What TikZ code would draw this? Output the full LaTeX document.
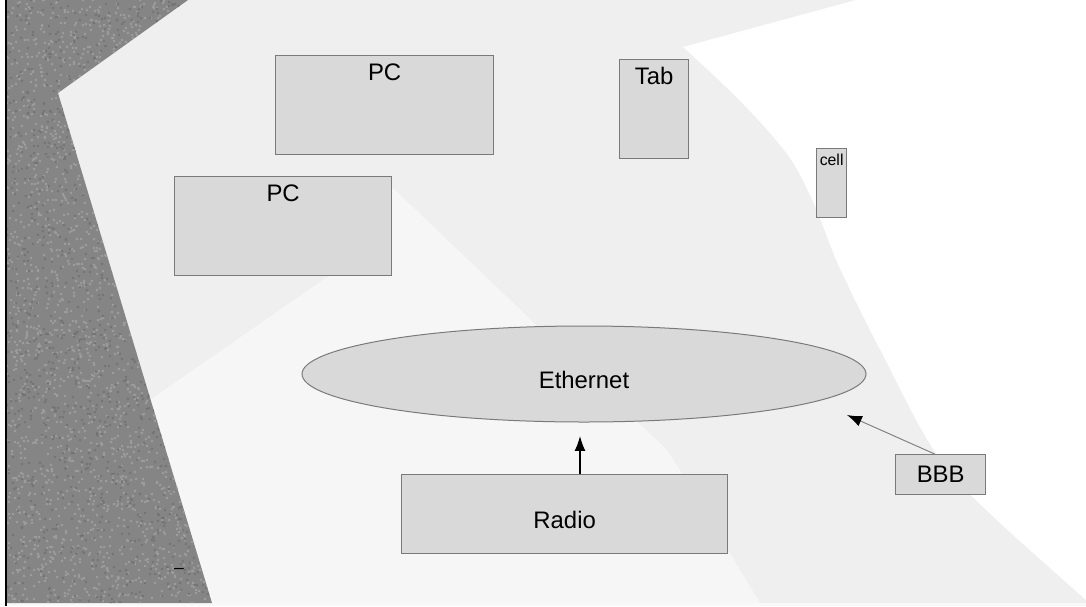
\documentclass[tikz,border=0pt]{standalone}
\usepackage{fontspec}
\setmainfont{Liberation Sans}
\usetikzlibrary{arrows.meta,shapes.geometric}
\newlength\pxl \setlength\pxl{0.02cm}
\definecolor{boxfill}{HTML}{D9D9D9}
\definecolor{boxline}{HTML}{7A7A7A}
\definecolor{stripcol}{HTML}{858585}
\definecolor{specks}{HTML}{9E9E9E}
\definecolor{specksdark}{HTML}{747474}
\definecolor{bgA}{HTML}{EFEFEF}
\definecolor{bgB}{HTML}{F6F6F6}
\begin{document}
\begin{tikzpicture}[x=0.02cm,y=-0.02cm,
  devbox/.style 2 args={draw=boxline, fill=boxfill, line width=1.3\pxl, inner sep=0pt,
    minimum width=#1\pxl, minimum height=#2\pxl, anchor=north west},
  lbl/.style={font=\fontsize{13.6}{16}\selectfont, inner sep=0pt},
  toplbl/.style={lbl, anchor=north, yshift=-8\pxl},
  conn/.style={draw=black, line width=0.7pt, -{Latex[length=8.5pt,width=6.2pt]}},
  conngrey/.style={draw=gray, line width=0.55pt, -{Latex[length=8.5pt,width=6.2pt,color=black]}}
]
\useasboundingbox (0,0) rectangle (1086,606);
% ---------- background ----------
\fill[bgA] (0,0) rectangle (1086,606);
\fill[white] (0,0) rectangle (5,606);
\fill[bgB] (393,188) -- (668,451) -- (760,603) -- (212,603) -- (150,400) -- (330,275) -- cycle;
\fill[white] plot[smooth] coordinates {(683,47) (725,86) (762,124) (792,161) (815,206) (837,262) (865,320) (888,365) (920,427) (950,473) (1000,523) (1086,600)}
  -- (1086,0) -- (856,0) -- (683,47) -- cycle;
\fill[white!60!bgA] (0,603) rectangle (1086,606);
\begin{scope}
  \clip (7,0) -- (188,0) -- (58,93) -- (212,603) -- (7,603) -- cycle;
  \fill[stripcol] (0,0) rectangle (220,606);
  \pgfmathsetseed{7}
  \foreach \i in {1,...,2600}{
    \pgfmathsetmacro{\rx}{7+random(0,210)}
    \pgfmathsetmacro{\ry}{random(0,603)}
    \fill[specks] (\rx,\ry) circle (1.4);
  }
  \foreach \i in {1,...,1400}{
    \pgfmathsetmacro{\rx}{7+random(0,210)}
    \pgfmathsetmacro{\ry}{random(0,603)}
    \fill[specksdark] (\rx,\ry) circle (1.4);
  }
\end{scope}
\draw[black, line width=2.2\pxl] (6,0) -- (6,606);
% ---------- diagram ----------
\node[devbox={218}{99}, label={[toplbl]north:PC}] (pc1) at (275,55) {};
\node[devbox={69}{99}, label={[toplbl]north:Tab}] (tab) at (619,59) {};
\node[devbox={30}{69}, label={[toplbl, font=\fontsize{9}{11}\selectfont, yshift=2\pxl]north:cell}] (cell) at (816,148) {};
\node[devbox={217}{99}, label={[toplbl]north:PC}] (pc2) at (174,176) {};
\node[ellipse, draw=boxline, fill=boxfill, line width=1\pxl, inner sep=0pt,
  minimum width=564\pxl, minimum height=96\pxl,
  label={[lbl, yshift=-6\pxl]center:Ethernet}] (eth) at (584,374) {};
\node[devbox={326}{79}, label={[lbl, yshift=-6\pxl]center:Radio}] (radio) at (401,474) {};
\node[devbox={90}{40}, label={[lbl]center:BBB}] (bbb) at (895,454) {};
\node[font=\fontsize{10}{12}\selectfont, inner sep=0pt] (dash) at (179,571) {–};
\coordinate (t1) at (580,436);
\coordinate (t2) at (847,415);
\draw[conn] (radio.north -| t1) -- (t1);
\draw[conngrey] ([xshift=-6\pxl]bbb.north) -- (t2);
\end{tikzpicture}
\end{document}
